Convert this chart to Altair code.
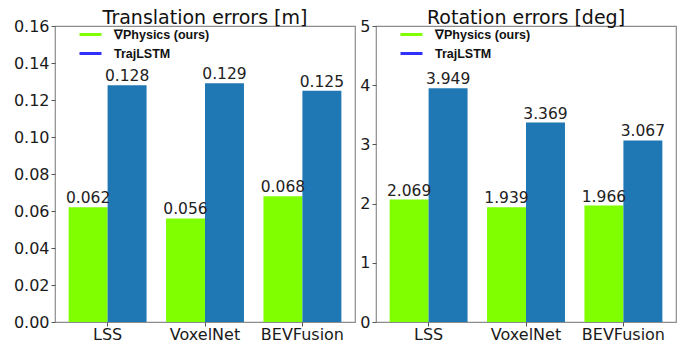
import altair as alt
import pandas as pd

categories = ["LSS", "VoxelNet", "BEVFusion"]
series = ["\u2207Physics (ours)", "\u00a0TrajLSTM"]
trans_ours = [0.062, 0.056, 0.068]
trans_lstm = [0.128, 0.129, 0.125]
rot_ours = [2.069, 1.939, 1.966]
rot_lstm = [3.949, 3.369, 3.067]
trans_ticks = [0.0, 0.02, 0.04, 0.06, 0.08, 0.10, 0.12, 0.14, 0.16]
rot_ticks = [0, 1, 2, 3, 4, 5]

bar_colors = ["#7fff00", "#1f77b4"]
legend_colors = ["#7fff00", "#3030ff"]


def make_df(ours, lstm):
    rows = []
    for c, a, b in zip(categories, ours, lstm):
        rows.append({"cat": c, "series": series[0], "value": a})
        rows.append({"cat": c, "series": series[1], "value": b})
    return pd.DataFrame(rows)


def panel(df, title, ydomain, yticks, yfmt):
    base = alt.Chart(df).encode(
        x=alt.X(
            "cat:N",
            sort=categories,
            scale=alt.Scale(paddingInner=0.2, paddingOuter=0.14),
            axis=alt.Axis(title=None, labelAngle=0, labelPadding=0),
        ),
        xOffset=alt.XOffset(
            "series:N",
            sort=series,
            scale=alt.Scale(domain=series, paddingInner=0, paddingOuter=0),
        ),
        y=alt.Y(
            "value:Q",
            scale=alt.Scale(domain=ydomain, nice=False, zero=True),
            axis=alt.Axis(title=None, values=yticks, format=yfmt, grid=False),
        ),
    )
    # bar fill scale: reversed domain so that it is not merged with the legend scale
    bars = base.mark_bar().encode(
        color=alt.Color(
            "series:N",
            scale=alt.Scale(domain=series[::-1], range=bar_colors[::-1]),
            legend=None,
        )
    )
    labels = base.mark_text(
        baseline="bottom", dy=-1, fontSize=15.5, font="DejaVu Sans", color="#222222"
    ).encode(text=alt.Text("value:Q", format=".3f"))
    leg = base.mark_line(strokeOpacity=0).encode(
        stroke=alt.Stroke(
            "series:N",
            scale=alt.Scale(domain=series, range=legend_colors),
            legend=alt.Legend(
                title=None,
                orient="none",
                legendX=23,
                legendY=-4,
                symbolType="stroke",
                symbolSize=484,
                symbolStrokeWidth=3,
                symbolOpacity=1,
                labelFont="Liberation Sans",
                labelFontWeight="bold",
                labelFontSize=12.5,
                labelColor="#111111",
                labelOffset=11,
                rowPadding=-6,
            ),
        )
    )
    return alt.layer(bars, labels, leg).properties(
        width=300,
        height=296,
        title=alt.TitleParams(
            title,
            fontSize=19,
            font="DejaVu Sans",
            fontWeight="normal",
            color="#111111",
            anchor="middle",
            offset=-10,
        ),
    )


left = panel(make_df(trans_ours, trans_lstm), "Translation errors [m]", [0, 0.16], trans_ticks, ".2f")
right = panel(make_df(rot_ours, rot_lstm), "Rotation errors [deg]", [0, 5], rot_ticks, "d")

chart = (
    alt.hconcat(left, right, spacing=3)
    .resolve_scale(stroke="independent", color="independent", y="independent")
    .resolve_legend(stroke="independent")
    .properties(padding={"left": 4, "top": 0, "right": 0, "bottom": 0})
    .configure_view(stroke="#8c8c8c", strokeWidth=1.2)
    .configure_axis(
        domain=False,
        tickColor="#555555",
        tickSize=4,
        labelPadding=2,
        labelFont="DejaVu Sans",
        labelFontSize=16,
        labelColor="#1a1a1a",
    )
)

chart.save("out.html", embed_options={"renderer": "svg", "actions": False})
